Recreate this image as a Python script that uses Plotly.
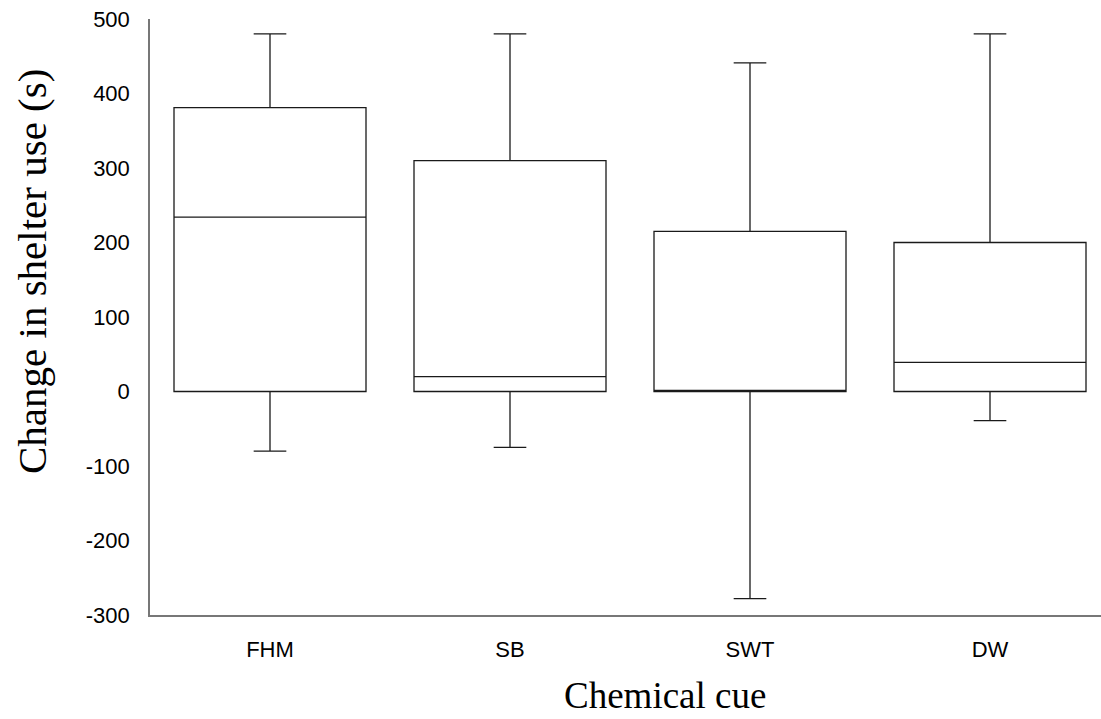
import plotly.graph_objects as go

categories = ["FHM", "SB", "SWT", "DW"]
q1 = [0, 0, 0, 0]
median = [234, 20, 0, 39]
q3 = [381, 310, 215, 200]
lower = [-80, -75, -278, -39]
upper = [480, 480, 441, 480]
y_ticks = [-300, -200, -100, 0, 100, 200, 300, 400, 500]
y_tick_text = ["-300", "-200", "-100", "0", "100", "200", "300", "400", "500"]
x_title = "Chemical cue"
y_title = "Change in shelter use (s)"

fig = go.Figure()
fig.add_trace(go.Box(
    x=categories, q1=q1, median=median, q3=q3,
    lowerfence=lower, upperfence=upper,
    fillcolor="rgba(0,0,0,0)",
    line=dict(color="#1a1a1a", width=1.3),
    whiskerwidth=0.17,
    boxpoints=False,
    hoverinfo="skip",
    showlegend=False,
))

serif = "Liberation Serif, Times New Roman, serif"
sans = "Liberation Sans, Arial, sans-serif"

fig.update_layout(
    width=1101, height=719,
    margin=dict(l=150, r=0, t=19, b=104),
    paper_bgcolor="white", plot_bgcolor="white",
    boxgap=0.2, boxgroupgap=0,
    xaxis=dict(
        type="category", range=[-0.5, 3.4625],
        showline=True, linecolor="#777", linewidth=1.5,
        showgrid=False, zeroline=False, ticks="",
        ticklabelstandoff=14,
        tickfont=dict(family=sans, size=22, color="black"),
    ),
    yaxis=dict(
        range=[-300, 500], tickvals=y_ticks, ticktext=y_tick_text,
        showline=True, linecolor="#777", linewidth=1.5,
        showgrid=False, zeroline=False, ticks="",
        ticklabelstandoff=14,
        tickfont=dict(family=sans, size=22, color="black"),
    ),
    annotations=[
        dict(text=x_title, xref="paper", yref="paper",
             x=(665 - 150) / 951, y=-(718 - 615) / 596,
             xanchor="center", yanchor="bottom", showarrow=False,
             font=dict(family=serif, size=37, color="black")),
        dict(text=y_title, xref="paper", yref="paper",
             x=-(150 - 32) / 951, y=(615 - 272) / 596,
             xanchor="center", yanchor="middle", showarrow=False, textangle=-90,
             font=dict(family=serif, size=41, color="black")),
    ],
)

fig.write_html("out.html", config={"displayModeBar": False},
               post_script="document.body.style.margin='0';document.body.style.overflow='hidden';")
